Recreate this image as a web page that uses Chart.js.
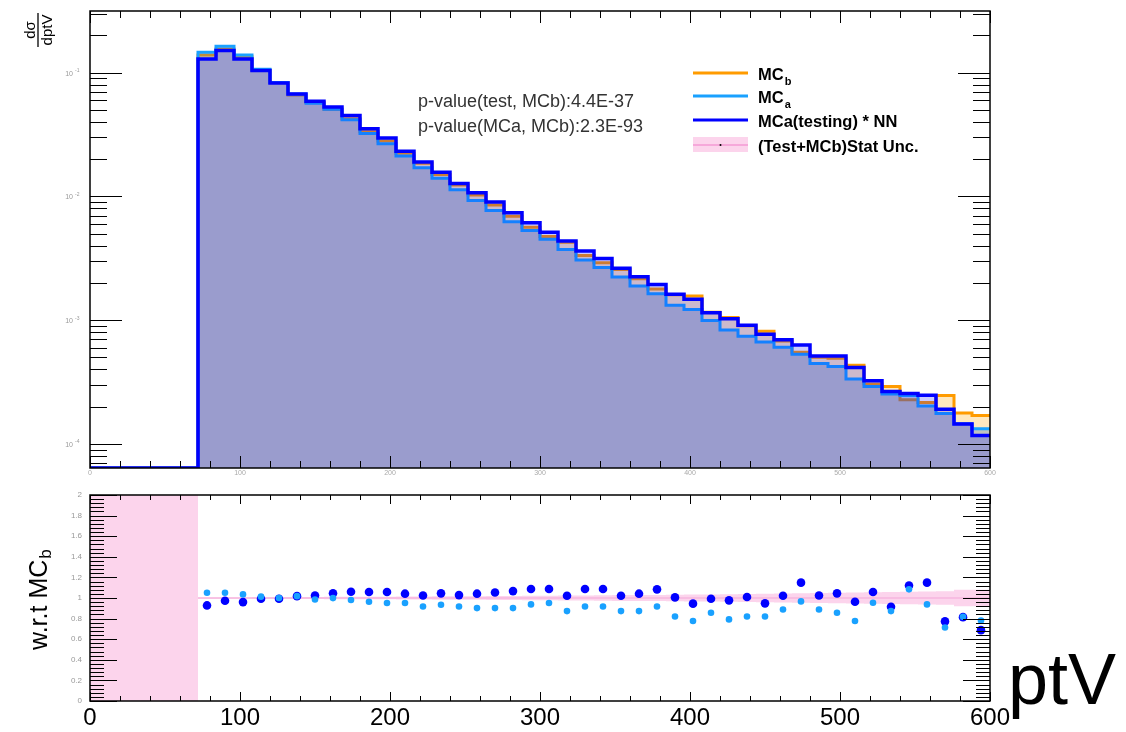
<!DOCTYPE html>
<html><head><meta charset="utf-8">
<script src="https://cdn.jsdelivr.net/npm/chart.js@4/dist/chart.umd.min.js"></script>
<style>
html,body{margin:0;padding:0;background:#fff;width:1126px;height:732px;overflow:hidden;}
#top{position:absolute;left:0;top:0;}
#bot{position:absolute;left:0;top:485px;}
</style></head><body>
<canvas id="top" width="1126" height="485"></canvas>
<canvas id="bot" width="1126" height="247"></canvas>
<script>
// ---------------- data ----------------
const binLow = [72,84,96,108,120,132,144,156,168,180,192,204,216,228,240,252,264,276,288,300,312,324,336,348,360,372,384,396,408,420,432,444,456,468,480,492,504,516,528,540,552,564,576,588];
const xRange = [0, 600];
const nn  = [0.1288,0.1514,0.1288,0.1043,0.0826,0.0673,0.0587,0.0529,0.0450,0.0353,0.0297,0.0232,0.0190,0.0157,0.0127,0.01071,0.00900,0.00739,0.00614,0.00515,0.00436,0.00362,0.00316,0.00263,0.00225,0.00194,0.00162,0.00148,0.00115,0.00103,0.000912,0.000771,0.000694,0.000632,0.000515,0.000515,0.000416,0.000324,0.000266,0.000256,0.000248,0.000191,0.000145,0.000117];
const mcb = [0.1388,0.1554,0.1342,0.1050,0.0832,0.0661,0.0573,0.0506,0.0424,0.0334,0.0281,0.0223,0.01854,0.01502,0.01235,0.01028,0.00854,0.00693,0.00565,0.00474,0.00427,0.00333,0.00291,0.00257,0.00216,0.00179,0.00161,0.00157,0.00116,0.00105,0.000904,0.000813,0.000679,0.000550,0.000502,0.000493,0.000432,0.000306,0.000291,0.000228,0.000216,0.000247,0.000178,0.000170];
const mca = [0.1459,0.1634,0.1389,0.1064,0.0832,0.0673,0.0565,0.0506,0.0416,0.0322,0.0267,0.0212,0.01702,0.01405,0.01134,0.00927,0.00770,0.00625,0.00530,0.00451,0.00373,0.00306,0.00267,0.00224,0.00189,0.00164,0.00132,0.00122,0.000994,0.000835,0.000742,0.000668,0.000604,0.000532,0.000447,0.000422,0.000335,0.000292,0.000254,0.000247,0.000203,0.000176,0.000146,0.000133];
const ratioNN  = [0.928,0.974,0.960,0.993,0.993,1.018,1.025,1.045,1.061,1.058,1.058,1.042,1.025,1.045,1.028,1.042,1.054,1.067,1.087,1.087,1.022,1.087,1.087,1.022,1.042,1.084,1.006,0.945,0.993,0.977,1.009,0.948,1.022,1.149,1.025,1.045,0.964,1.058,0.915,1.122,1.149,0.773,0.814,0.688];
const ratioMCa = [1.051,1.051,1.035,1.013,1.000,1.018,0.986,0.999,0.980,0.964,0.951,0.951,0.918,0.935,0.918,0.902,0.902,0.902,0.938,0.951,0.873,0.918,0.918,0.873,0.873,0.918,0.821,0.776,0.857,0.792,0.821,0.821,0.889,0.967,0.889,0.857,0.776,0.954,0.873,1.084,0.938,0.714,0.818,0.782];
const bandErr  = [0.008,0.008,0.008,0.009,0.009,0.010,0.010,0.011,0.012,0.012,0.013,0.014,0.015,0.016,0.017,0.018,0.019,0.020,0.021,0.022,0.024,0.025,0.026,0.028,0.029,0.030,0.032,0.034,0.035,0.037,0.040,0.042,0.044,0.046,0.048,0.050,0.053,0.056,0.058,0.060,0.062,0.065,0.080,0.080];
const emptyBand = [0, 2];          // empty bins below first edge: band covers whole ratio range
const yRangeTop = [6.4e-5, 0.315];
const yRangeBot = [0, 2];
const xMajorTicks = [0,100,200,300,400,500,600];
const xMinorStep = 20;
const yTopDecades = [1e-4, 1e-3, 1e-2, 1e-1];
const yBotTicks = [0,0.2,0.4,0.6,0.8,1,1.2,1.4,1.6,1.8,2];
const yBotMinorStep = 0.04;
const pvalueLines = ["p-value(test, MCb):4.4E-37", "p-value(MCa, MCb):2.3E-93"];

const FONT = "'Liberation Sans', Arial, Helvetica, sans-serif";
const C_NN = '#0000ff', C_MCA = '#19a1ff', C_MCB = '#ff9b00', C_BAND = '#fcd4ec';

// ---------------- helpers ----------------
function histPoints(vals){
  const pts = [{x: xRange[0], y: yRangeTop[0]}];
  binLow.forEach((lo, i) => pts.push({x: lo, y: vals[i]}));
  pts.push({x: xRange[1], y: vals[vals.length - 1]});
  return pts;
}
const binCenter = binLow.map((lo, i) => (lo + (i + 1 < binLow.length ? binLow[i + 1] : xRange[1])) / 2);
function ratioPoints(vals){ return vals.map((v, i) => ({x: binCenter[i], y: v})); }
function bandPoints(sign){
  const pts = [{x: xRange[0], y: sign > 0 ? emptyBand[1] : emptyBand[0]}];
  binLow.forEach((lo, i) => pts.push({x: lo, y: 1 + sign * bandErr[i]}));
  pts.push({x: xRange[1], y: 1 + sign * bandErr[bandErr.length - 1]});
  return pts;
}
function seg(ctx, x1, y1, x2, y2){ ctx.beginPath(); ctx.moveTo(x1, y1); ctx.lineTo(x2, y2); ctx.stroke(); }

// ---------------- top panel ----------------
const topDecor = {
  id: 'topDecor',
  afterDraw(chart){
    const {ctx, chartArea: a} = chart; const xs = chart.scales.x, ys = chart.scales.y;
    ctx.save();
    ctx.strokeStyle = '#000'; ctx.lineWidth = 1;
    const decs = [yTopDecades[0] / 10, ...yTopDecades];
    decs.forEach(dec => {
      for (let m = 1; m <= 9; m++){
        const v = dec * m;
        if (v < ys.min || v > ys.max) continue;
        const py = Math.round(ys.getPixelForValue(v)) + 0.5;
        const len = (m === 1) ? 32 : 17;
        seg(ctx, a.left, py, a.left + len, py);
        seg(ctx, a.right, py, a.right - len, py);
      }
    });
    for (let v = xRange[0]; v <= xRange[1]; v += xMinorStep){
      const px = Math.round(xs.getPixelForValue(v)) + 0.5;
      const len = xMajorTicks.includes(v) ? 12 : 7;
      seg(ctx, px, a.bottom, px, a.bottom - len);
      seg(ctx, px, a.top, px, a.top + len);
    }
    ctx.lineWidth = 1.5;
    ctx.strokeRect(a.left, a.top, a.right - a.left, a.bottom - a.top);
    // y labels
    ctx.fillStyle = '#999';
    yTopDecades.forEach(d => {
      const py = ys.getPixelForValue(d);
      const e = Math.round(Math.log10(d));
      ctx.font = '7px ' + FONT; ctx.textAlign = 'right'; ctx.textBaseline = 'middle';
      ctx.fillText('10', 73, py + 1);
      ctx.font = '5px ' + FONT; ctx.textAlign = 'left';
      ctx.fillText(String(e), 75, py - 2);
    });
    // x labels (tiny)
    ctx.fillStyle = '#aaa'; ctx.font = '7px ' + FONT; ctx.textAlign = 'center'; ctx.textBaseline = 'top';
    xMajorTicks.forEach(v => ctx.fillText(String(v), xs.getPixelForValue(v), a.bottom + 2));
    // y title d sigma / d ptV
    ctx.save();
    ctx.translate(38, 30); ctx.rotate(-Math.PI / 2);
    ctx.fillStyle = '#000'; ctx.textAlign = 'center';
    ctx.font = '15px ' + FONT;
    ctx.textBaseline = 'alphabetic'; ctx.fillText('dσ', 0, -3);
    ctx.textBaseline = 'top'; ctx.fillText('dptV', 0, 2);
    ctx.lineWidth = 1.3; seg(ctx, -17, 0, 17, 0);
    ctx.restore();
    // p-values
    ctx.fillStyle = '#333'; ctx.font = '18px ' + FONT; ctx.textAlign = 'left'; ctx.textBaseline = 'middle';
    ctx.fillText(pvalueLines[0], 418, 102);
    ctx.fillText(pvalueLines[1], 418, 127);
    // legend
    const rows = [
      {y: 73, color: C_MCB, main: 'MC', sub: 'b'},
      {y: 96, color: C_MCA, main: 'MC', sub: 'a'},
      {y: 120, color: C_NN, main: 'MCa(testing) * NN', sub: ''},
      {y: 145, band: true, main: '(Test+MCb)Stat Unc.', sub: ''}
    ];
    rows.forEach(r => {
      if (r.band){
        ctx.fillStyle = C_BAND; ctx.fillRect(693, r.y - 8, 55, 15);
        ctx.strokeStyle = '#f07cc8'; ctx.lineWidth = 1.2; seg(ctx, 693, r.y, 748, r.y);
        ctx.fillStyle = '#000'; ctx.beginPath(); ctx.arc(720.5, r.y, 1, 0, 2 * Math.PI); ctx.fill();
      } else {
        ctx.strokeStyle = r.color; ctx.lineWidth = 3; seg(ctx, 693, r.y, 748, r.y);
      }
      ctx.fillStyle = '#000'; ctx.textAlign = 'left'; ctx.textBaseline = 'alphabetic';
      ctx.font = 'bold 16.5px ' + FONT;
      ctx.fillText(r.main, 758, r.y + 6.5);
      if (r.sub){
        const w = ctx.measureText(r.main).width;
        ctx.font = 'bold 11px ' + FONT;
        ctx.fillText(r.sub, 758 + w + 1, r.y + 12);
      }
    });
    ctx.restore();
  }
};

new Chart(document.getElementById('top'), {
  type: 'line',
  data: {
    datasets: [
      {label: 'MCa(testing) * NN', data: histPoints(nn), borderColor: C_NN, borderWidth: 3.5,
       backgroundColor: 'rgba(0,0,255,0.2)', fill: 'start', stepped: 'before', pointRadius: 0, order: 1},
      {label: 'MCa', data: histPoints(mca), borderColor: C_MCA, borderWidth: 3,
       backgroundColor: 'rgba(47,109,192,0.3)', fill: 'start', stepped: 'before', pointRadius: 0, order: 2},
      {label: 'MCb', data: histPoints(mcb), borderColor: C_MCB, borderWidth: 3,
       backgroundColor: 'rgba(255,165,0,0.25)', fill: 'start', stepped: 'before', pointRadius: 0, order: 3}
    ]
  },
  options: {
    responsive: false, animation: false,
    layout: {padding: {left: 90, right: 136, top: 11, bottom: 17}},
    plugins: {legend: {display: false}, tooltip: {enabled: false}},
    scales: {
      x: {type: 'linear', min: xRange[0], max: xRange[1], display: false},
      y: {type: 'logarithmic', min: yRangeTop[0], max: yRangeTop[1], display: false}
    }
  },
  plugins: [topDecor]
});

// ---------------- bottom panel ----------------
const botDecor = {
  id: 'botDecor',
  afterDraw(chart){
    const {ctx, chartArea: a} = chart; const xs = chart.scales.x, ys = chart.scales.y;
    ctx.save();
    ctx.strokeStyle = '#000'; ctx.lineWidth = 1;
    const nMinor = Math.round((yRangeBot[1] - yRangeBot[0]) / yBotMinorStep);
    for (let k = 0; k <= nMinor; k++){
      const v = yRangeBot[0] + k * yBotMinorStep;
      const py = Math.round(ys.getPixelForValue(v)) + 0.5;
      const len = (k % 5 === 0) ? 27 : 14;
      seg(ctx, a.left, py, a.left + len, py);
      seg(ctx, a.right, py, a.right - len, py);
    }
    for (let v = xRange[0]; v <= xRange[1]; v += xMinorStep){
      const px = Math.round(xs.getPixelForValue(v)) + 0.5;
      const len = xMajorTicks.includes(v) ? 9 : 5;
      seg(ctx, px, a.bottom, px, a.bottom - len);
      seg(ctx, px, a.top, px, a.top + len);
    }
    ctx.lineWidth = 1.5;
    ctx.strokeRect(a.left, a.top, a.right - a.left, a.bottom - a.top);
    // y labels
    ctx.fillStyle = '#999'; ctx.font = '8px ' + FONT; ctx.textAlign = 'right'; ctx.textBaseline = 'middle';
    yBotTicks.forEach(v => ctx.fillText(Number.isInteger(v) ? String(v) : v.toFixed(1), 82, ys.getPixelForValue(v)));
    // x labels
    ctx.fillStyle = '#000'; ctx.font = '24px ' + FONT; ctx.textAlign = 'center'; ctx.textBaseline = 'alphabetic';
    xMajorTicks.forEach(v => ctx.fillText(String(v), xs.getPixelForValue(v), 240));
    // x title
    ctx.font = '72px ' + FONT; ctx.textAlign = 'left';
    ctx.fillText('ptV', 1008, 219);
    // y title
    ctx.save();
    ctx.translate(47, 165); ctx.rotate(-Math.PI / 2);
    ctx.font = '25px ' + FONT; ctx.textAlign = 'left'; ctx.textBaseline = 'alphabetic';
    ctx.fillText('w.r.t MC', 0, 0);
    const w = ctx.measureText('w.r.t MC').width;
    ctx.font = '17px ' + FONT;
    ctx.fillText('b', w + 1, 4);
    ctx.restore();
    ctx.restore();
  }
};

new Chart(document.getElementById('bot'), {
  type: 'line',
  data: {
    datasets: [
      {label: 'MCa / MCb', data: ratioPoints(ratioMCa), showLine: false, pointRadius: 3.3, pointBorderWidth: 0,
       pointBackgroundColor: C_MCA, pointBorderColor: C_MCA, order: 1},
      {label: 'MCa(testing) * NN / MCb', data: ratioPoints(ratioNN), showLine: false, pointRadius: 4.3, pointBorderWidth: 0,
       pointBackgroundColor: C_NN, pointBorderColor: C_NN, order: 2},
      {label: 'unc centre', data: binLow.map(x => ({x, y: 1})).concat([{x: xRange[1], y: 1}]),
       borderColor: '#f3a6d8', borderWidth: 1, pointRadius: 0, fill: false, stepped: 'before', order: 3},
      {label: '(Test+MCb)Stat Unc.', data: bandPoints(1), borderWidth: 0, borderColor: 'rgba(0,0,0,0)',
       backgroundColor: C_BAND, fill: '+1', stepped: 'before', pointRadius: 0, order: 4},
      {label: 'band low', data: bandPoints(-1), borderWidth: 0, borderColor: 'rgba(0,0,0,0)',
       fill: false, stepped: 'before', pointRadius: 0, order: 5}
    ]
  },
  options: {
    responsive: false, animation: false,
    layout: {padding: {left: 90, right: 136, top: 10, bottom: 31}},
    plugins: {legend: {display: false}, tooltip: {enabled: false}},
    scales: {
      x: {type: 'linear', min: xRange[0], max: xRange[1], display: false},
      y: {type: 'linear', min: yRangeBot[0], max: yRangeBot[1], display: false}
    }
  },
  plugins: [botDecor]
});
</script>
</body></html>
